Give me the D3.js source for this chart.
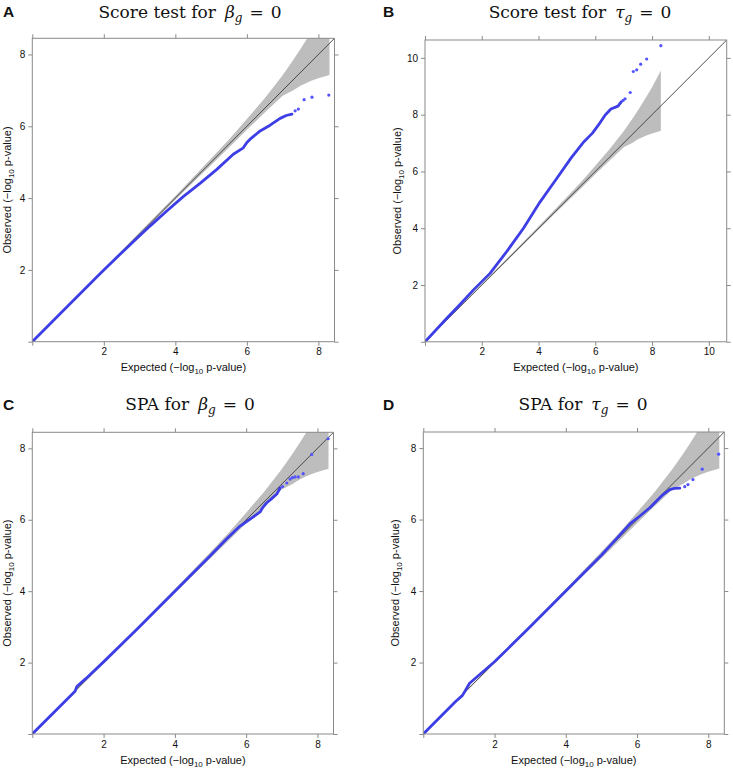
<!DOCTYPE html>
<html>
<head>
<meta charset="utf-8">
<script src="https://cdn.jsdelivr.net/npm/d3@7/dist/d3.min.js"></script>
<style>
  html, body { margin: 0; padding: 0; background: #fff; }
  svg { display: block; }
</style>
</head>
<body>
<svg id="chart" width="733" height="768"></svg>
<script>
// ---------- DATA ----------
// shared 95% confidence band (expected, lower, upper)
const bandExpected = [0, 2, 3, 4, 4.5, 5, 5.5, 6, 6.5, 7, 7.3, 7.5, 7.8, 8.0, 8.31];
const bandLower    = [0, 1.98, 2.96, 3.95, 4.44, 4.92, 5.41, 5.9, 6.38, 6.85, 7.0, 7.13, 7.27, 7.34, 7.43];
const bandUpper    = [0, 2.03, 3.05, 4.06, 4.58, 5.1, 5.63, 6.2, 6.78, 7.42, 7.85, 8.15, 8.63, 8.97, 9.56];

// Panel A: Score test for beta_g = 0
const curveA = [[0,0],[1,1],[1.9,1.9],[2.5,2.48],[2.83,2.79],[3.29,3.22],[3.76,3.64],[4.22,4.04],[4.69,4.41],
  [5.16,4.80],[5.62,5.22],[5.90,5.40],[6.0,5.55],[6.09,5.64],[6.37,5.87],[6.65,6.03],[6.72,6.08],[6.93,6.22],[7.1,6.30],[7.26,6.34]];
const tailA = [[7.35,6.43],[7.44,6.48],[7.60,6.74],[7.82,6.81],[8.29,6.87]];

// Panel B: Score test for tau_g = 0
const curveB = [[0,0],[0.76,0.82],[1.2,1.28],[1.7,1.82],[2.29,2.41],[2.88,3.18],[3.47,4.0],[4.05,4.92],[4.64,5.75],
  [5.15,6.48],[5.6,7.05],[5.9,7.35],[6.1,7.62],[6.35,7.99],[6.55,8.2],[6.8,8.3],[6.92,8.46]];
const tailB = [[6.98,8.5],[7.05,8.56],[7.23,8.78],[7.34,9.52],[7.46,9.58],[7.60,9.78],[7.81,9.96],[8.31,10.43]];

// Panel C: SPA for beta_g = 0
const curveC = [[0,0],[1.2,1.2],[1.25,1.33],[1.5,1.55],[2,2.02],[3,3.0],[4,4.0],[5,5.0],[5.45,5.46],[5.8,5.8],
  [6.01,5.95],[6.2,6.08],[6.39,6.22],[6.47,6.35],[6.57,6.47],[6.7,6.58],[6.86,6.72],[6.95,6.89]];
const tailC = [[7.02,6.93],[7.14,7.03],[7.23,7.14],[7.30,7.18],[7.37,7.20],[7.46,7.20],[7.60,7.29],[7.84,7.83],[8.30,8.27]];

// Panel D: SPA for tau_g = 0
const curveD = [[0,0],[0.9,0.9],[1.1,1.08],[1.3,1.42],[1.6,1.68],[2.0,2.02],[3,3.0],[4,4.0],[5,5.0],[5.42,5.46],
  [5.80,5.88],[6.08,6.10],[6.36,6.33],[6.55,6.52],[6.73,6.70],[6.92,6.84],[7.05,6.87],[7.20,6.88]];
const tailD = [[7.34,6.92],[7.43,6.98],[7.57,7.12],[7.83,7.41],[8.29,7.83]];

const ticks8  = [0, 2, 4, 6, 8];
const ticks10 = [0, 2, 4, 6, 8, 10];
const panelLetters = ["A", "B", "C", "D"];
const titleLead = ["Score test for", "Score test for", "SPA for", "SPA for"];
const titleSymbol = ["β", "τ", "β", "τ"];

// ---------- DRAWING ----------
const svg = d3.select("#chart");
const FRAME = "#8a8a8a";
const LINEBLUE = "#3e3ee6";
const DOTBLUE = "#5353ff";

function drawPanel(i, cfg, curve, tail, ticks, dom) {
  const g = svg.append("g");
  const x = d3.scaleLinear().domain([0, dom]).range([cfg.left, cfg.right]);
  const y = d3.scaleLinear().domain([0, dom]).range([cfg.bottom, cfg.top]);

  const clipId = "clip" + i;
  svg.append("clipPath").attr("id", clipId).append("rect")
    .attr("x", cfg.left).attr("y", cfg.top)
    .attr("width", cfg.right - cfg.left).attr("height", cfg.bottom - cfg.top);

  const plot = g.append("g").attr("clip-path", `url(#${clipId})`);

  // confidence band
  const bandData = bandExpected.map((e, k) => ({e, lo: bandLower[k], hi: bandUpper[k]}));
  plot.append("path")
    .datum(bandData)
    .attr("d", d3.area().x(d => x(d.e)).y0(d => y(d.lo)).y1(d => y(d.hi)))
    .attr("fill", "#bdbdbd").attr("stroke", "none");

  // diagonal
  plot.append("path")
    .datum([0, dom])
    .attr("d", d3.line().x(d => x(d)).y(d => y(d)))
    .attr("stroke", "#3a3a3a").attr("stroke-width", 0.9).attr("fill", "none");

  // observed curve (dense part)
  plot.append("path")
    .datum(curve)
    .attr("d", d3.line().x(d => x(d[0])).y(d => y(d[1])))
    .attr("stroke", LINEBLUE).attr("stroke-width", 2.8).attr("fill", "none")
    .attr("stroke-linejoin", "round").attr("stroke-linecap", "round");

  // tail points
  plot.selectAll("circle.tail").data(tail).enter().append("circle")
    .attr("class", "tail")
    .attr("cx", d => x(d[0])).attr("cy", d => y(d[1])).attr("r", 1.6)
    .attr("fill", DOTBLUE);

  // frame
  g.append("rect")
    .attr("x", cfg.left).attr("y", cfg.top)
    .attr("width", cfg.right - cfg.left).attr("height", cfg.bottom - cfg.top)
    .attr("fill", "none").attr("stroke", FRAME).attr("stroke-width", 1);

  const tickFmt = d => (d === 0 ? "" : d);
  const styleAxis = sel => {
    sel.select(".domain").remove();
    sel.selectAll(".tick line").attr("stroke", FRAME).attr("stroke-width", 1);
    sel.selectAll(".tick text").attr("fill", "#111")
      .style("font-family", "'Liberation Sans', Arial, sans-serif").style("font-size", "10px");
  };
  g.append("g").attr("transform", `translate(0,${cfg.bottom})`)
    .call(d3.axisBottom(x).tickValues(ticks).tickFormat(tickFmt).tickSize(4).tickPadding(2.5)).call(styleAxis);
  g.append("g").attr("transform", `translate(${cfg.left},0)`)
    .call(d3.axisLeft(y).tickValues(ticks).tickFormat(tickFmt).tickSize(4).tickPadding(3)).call(styleAxis);
  g.append("g").attr("transform", `translate(0,${cfg.top})`)
    .call(d3.axisTop(x).tickValues(ticks).tickFormat("").tickSize(4)).call(styleAxis);
  g.append("g").attr("transform", `translate(${cfg.right},0)`)
    .call(d3.axisRight(y).tickValues(ticks).tickFormat("").tickSize(4)).call(styleAxis);

  // axis titles
  const xt = g.append("text")
    .attr("x", (cfg.left + cfg.right) / 2).attr("y", cfg.bottom + 29.5)
    .attr("text-anchor", "middle").attr("fill", "#111")
    .style("font-family", "'Liberation Sans', Arial, sans-serif").style("font-size", "11px");
  xt.append("tspan").text("Expected (\u2212log");
  xt.append("tspan").attr("dy", 3).style("font-size", "8px").text("10");
  xt.append("tspan").attr("dy", -3).text(" p-value)");

  const yc = (cfg.top + cfg.bottom) / 2;
  const yt = g.append("text")
    .attr("transform", `translate(${cfg.ytx},${yc}) rotate(-90)`)
    .attr("text-anchor", "middle").attr("fill", "#111")
    .style("font-family", "'Liberation Sans', Arial, sans-serif").style("font-size", "11px");
  yt.append("tspan").text("Observed (\u2212log");
  yt.append("tspan").attr("dy", 3).style("font-size", "8px").text("10");
  yt.append("tspan").attr("dy", -3).text(" p-value)");

  // title (TeX-like), centred on the measured centre
  const tt = g.append("text")
    .attr("x", 0).attr("y", cfg.titleY)
    .attr("text-anchor", "start").attr("fill", "#111")
    .style("font-family", "'DejaVu Serif', 'Liberation Serif', serif").style("font-size", "17px")
    .style("font-weight", "300");
  tt.append("tspan").text(titleLead[i]);
  tt.append("tspan").attr("dx", 9).style("font-style", "italic").text(titleSymbol[i]);
  tt.append("tspan").attr("dy", 4).style("font-style", "italic").style("font-size", "12px").text("g");
  tt.append("tspan").attr("dy", -4).attr("dx", 7).text("=");
  tt.append("tspan").attr("dx", 7).text("0");
  const bb = tt.node().getBBox();
  tt.attr("x", cfg.titleX - bb.width / 2 - bb.x);

  // panel letter
  g.append("text")
    .attr("x", cfg.letterX).attr("y", cfg.letterY)
    .attr("fill", "#111").style("font-family", "'Liberation Sans', Arial, sans-serif")
    .style("font-weight", "bold").style("font-size", "15.5px")
    .text(panelLetters[i]);
}

drawPanel(0, {left: 32.3, right: 334.5, top: 38.3, bottom: 341.7, ytx: 11, titleX: 190, titleY: 17.5, letterX: 3, letterY: 16.5},
  curveA, tailA, ticks8, 8.45);
drawPanel(1, {left: 425, right: 726.7, top: 40, bottom: 341.8, ytx: 401, titleX: 580, titleY: 17.5, letterX: 383, letterY: 16.5},
  curveB, tailB, ticks10, 10.63);
drawPanel(2, {left: 32.3, right: 333.5, top: 432.3, bottom: 734, ytx: 11, titleX: 190, titleY: 410, letterX: 3, letterY: 409.5},
  curveC, tailC, ticks8, 8.45);
drawPanel(3, {left: 423.3, right: 724.3, top: 432, bottom: 734, ytx: 399, titleX: 583, titleY: 410, letterX: 383, letterY: 409.5},
  curveD, tailD, ticks8, 8.45);
</script>
</body>
</html>
